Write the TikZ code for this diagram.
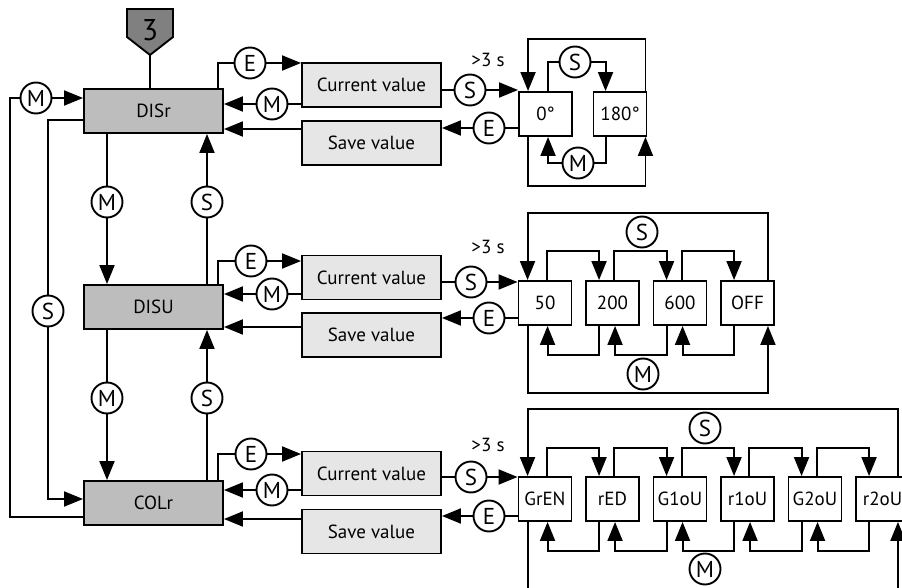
\documentclass[tikz,border=0pt]{standalone}
\usepackage{fontspec}
\setmainfont{PT Sans}
\usetikzlibrary{arrows.meta}

\definecolor{menugray}{HTML}{BDBDBD}
\definecolor{panelgray}{HTML}{E6E6E6}
\definecolor{tabgray}{HTML}{808080}

\begin{document}
\begin{tikzpicture}[x=1pt,y=-1pt,line width=1.9pt,
  menu/.style={draw,fill=menugray,minimum width=139pt,minimum height=44pt,inner sep=0pt,font=\fontsize{19}{22}\selectfont},
  action/.style={draw,fill=panelgray,minimum width=139pt,minimum height=44pt,inner sep=0pt,font=\fontsize{19}{22}\selectfont},
  opt/.style={draw,fill=white,minimum width=53pt,minimum height=44pt,inner sep=0pt,font=\fontsize{19}{22}\selectfont},
  key/.style={draw,circle,fill=white,minimum size=31pt,inner sep=0pt,font=\fontsize{23}{24}\selectfont},
  arr/.style={-{Triangle[length=19pt,width=15pt]}},
  note/.style={inner sep=0pt,font=\fontsize{19}{22}\selectfont}
]
\useasboundingbox (0,0) rectangle (902,588);
\clip (0,0) rectangle (902,588);

% routing helpers
\coordinate (xr) at (218,0);
\coordinate (xl) at (10,0);
\coordinate (ysout) at (0,120);
\coordinate (ysin) at (0,499);
\coordinate (yout) at (0,517);
\coordinate (y1) at (0,129);
\coordinate (y2) at (0,327);
\coordinate (y3) at (0,519);

% entry tab
\draw[fill=tabgray] (127,9) -- (173,9) -- (173,37) -- (150,55) -- (127,37) -- cycle;
\node[font=\fontsize{30}{30}\selectfont] (tab) at (150,30) {3};
\coordinate (tabtip) at (150,55);

% menu items
\node[menu] (disr) at (153.5,111) {DISr};
\node[menu] (disu) at (153.5,307) {DISU};
\node[menu] (colr) at (153.5,503) {COLr};

% value panels
\node[action] (cv1) at (371.5,85) {Current value};
\node[action] (sv1) at (371.5,143) {Save value};
\node[action] (cv2) at (371.5,277.5) {Current value};
\node[action] (sv2) at (371.5,335) {Save value};
\node[action] (cv3) at (371.5,473.5) {Current value};
\node[action] (sv3) at (371.5,531.5) {Save value};

% options
\node[opt] (a0) at (545.5,114) {0°};
\node[opt] (a180) at (620,114) {180°};
\node[opt] (b50) at (545,303) {50};
\node[opt] (b200) at (612.5,303) {200};
\node[opt] (b600) at (680,303) {600};
\node[opt] (boff) at (747.5,303) {OFF};
\node[opt] (cgren) at (545,499) {GrEN};
\node[opt] (cred) at (612.5,499) {rED};
\node[opt] (cg1) at (680,499) {G1oU};
\node[opt] (cr1) at (747.5,499) {r1oU};
\node[opt] (cg2) at (815,499) {G2oU};
\node[opt] (cr2) at (882.5,499) {r2oU};

% buttons on the left column
\node[key] (mL) at (36,98) {M};
\node[key] (sL) at (48,311) {S};
\node[key] (mD1) at (107,202) {M};
\node[key] (sU1) at (207,202) {S};
\node[key] (mD2) at (107,398) {M};
\node[key] (sU2) at (207,398) {S};

% buttons between menu and panels
\node[key] (e1) at (250,63) {E};
\node[key] (m1) at (272,104) {M};
\node[key] (e2) at (251,261) {E};
\node[key] (m2) at (272,294) {M};
\node[key] (e3) at (251,454) {E};
\node[key] (m3) at (272,490) {M};

% buttons between panels and options
\node[key] (s1) at (470,90) {S};
\node[key] (x1) at (489,128) {E};
\node[key] (s2) at (471,282) {S};
\node[key] (x2) at (489,318) {E};
\node[key] (s3) at (471,477) {S};
\node[key] (x3) at (489,516) {E};
\node[note] (t1) at (488,60) {>3 s};
\node[note] (t2) at (488,247) {>3 s};
\node[note] (t3) at (488,445) {>3 s};

% left column
\draw (tabtip) -- (disr.north -| tabtip);
\draw (colr.west |- yout) -| (xl |- mL) -- (mL.west);
\draw[arr] (mL.east) -- (disr.west |- mL);
\draw (disr.west |- ysout) -| (sL.north);
\draw[arr] (sL.south) |- (colr.west |- ysin);
\draw (disr.south -| mD1) -- (mD1.north);
\draw[arr] (mD1.south) -- (disu.north -| mD1);
\draw (disu.north -| sU1) -- (sU1.south);
\draw[arr] (sU1.north) -- (disr.south -| sU1);
\draw (disu.south -| mD2) -- (mD2.north);
\draw[arr] (mD2.south) -- (colr.north -| mD2);
\draw (colr.north -| sU2) -- (sU2.south);
\draw[arr] (sU2.north) -- (disu.south -| sU2);

% menu <-> panels
\foreach \k/\c/\s/\e/\m/\y in {disr/cv1/sv1/e1/m1/y1, disu/cv2/sv2/e2/m2/y2, colr/cv3/sv3/e3/m3/y3} {
  \draw (\k.north -| xr) |- (\e.west);
  \draw[arr] (\e.east) -- (\c.west |- \e);
  \draw (\c.west |- \m) -- (\m.east);
  \draw[arr] (\m.west) -- (\k.east |- \m);
  \draw[arr] (\s.west |- \y) -- (\k.east |- \y);
}

% panels <-> options
\foreach \c/\s/\x/\f/\v in {cv1/s1/x1/a0/sv1, cv2/s2/x2/b50/sv2, cv3/s3/x3/cgren/sv3} {
  \draw (\c.east |- \s) -- (\s.west);
  \draw[arr] (\s.east) -- (\f.west |- \s);
  \draw (\f.west |- \x) -- (\x.east);
  \draw[arr] (\x.west) -- (\v.east |- \x);
}

% orientation loop
\draw[arr] ([xshift=30pt]a0.north west) -- ++(0,-29) -| ([xshift=13pt]a180.north west);
\draw[arr] ([xshift=13pt]a180.south west) -- ++(0,26) -| ([xshift=30pt]a0.south west);
\draw[arr] ([xshift=-2pt]a180.north east) -- ++(0,-52) -| ([xshift=10pt]a0.north west);
\draw[arr] ([xshift=10pt]a0.south west) -- ++(0,49) -| ([xshift=-2pt]a180.south east);
\node[key] (sr1) at (575,62) {S};
\node[key] (mr1) at (578,163) {M};

% update rate loop
\foreach \a/\b in {b50/b200, b200/b600, b600/boff} {
  \draw[arr] ([xshift=29pt]\a.north west) -- ++(0,-29) -| ([xshift=14pt]\b.north west);
  \draw[arr] ([xshift=14pt]\b.south west) -- ++(0,29) -| ([xshift=30pt]\a.south west);
}
\draw[arr] ([xshift=-7pt]boff.north east) -- ++(0,-67) -| ([xshift=10pt]b50.north west);
\draw[arr] ([xshift=10pt]b50.south west) -- ++(0,67) -| ([xshift=-7pt]boff.south east);
\node[key] (sr2) at (642,232) {S};
\node[key] (mr2) at (643,374) {M};

% colour loop
\foreach \a/\b in {cgren/cred, cred/cg1, cg1/cr1, cr1/cg2, cg2/cr2} {
  \draw[arr] ([xshift=29pt]\a.north west) -- ++(0,-28) -| ([xshift=14pt]\b.north west);
  \draw[arr] ([xshift=14pt]\b.south west) -- ++(0,29) -| ([xshift=30pt]\a.south west);
}
\draw[arr] ([xshift=-12pt]cr2.north east) -- ++(0,-67) -| ([xshift=10pt]cgren.north west);
\draw[arr] ([xshift=10pt]cgren.south west) -- ++(0,72) -| ([xshift=-12pt]cr2.south east);
\node[key] (sr3) at (705,428) {S};
\node[key] (mr3) at (705,569) {M};
\end{tikzpicture}
\end{document}
